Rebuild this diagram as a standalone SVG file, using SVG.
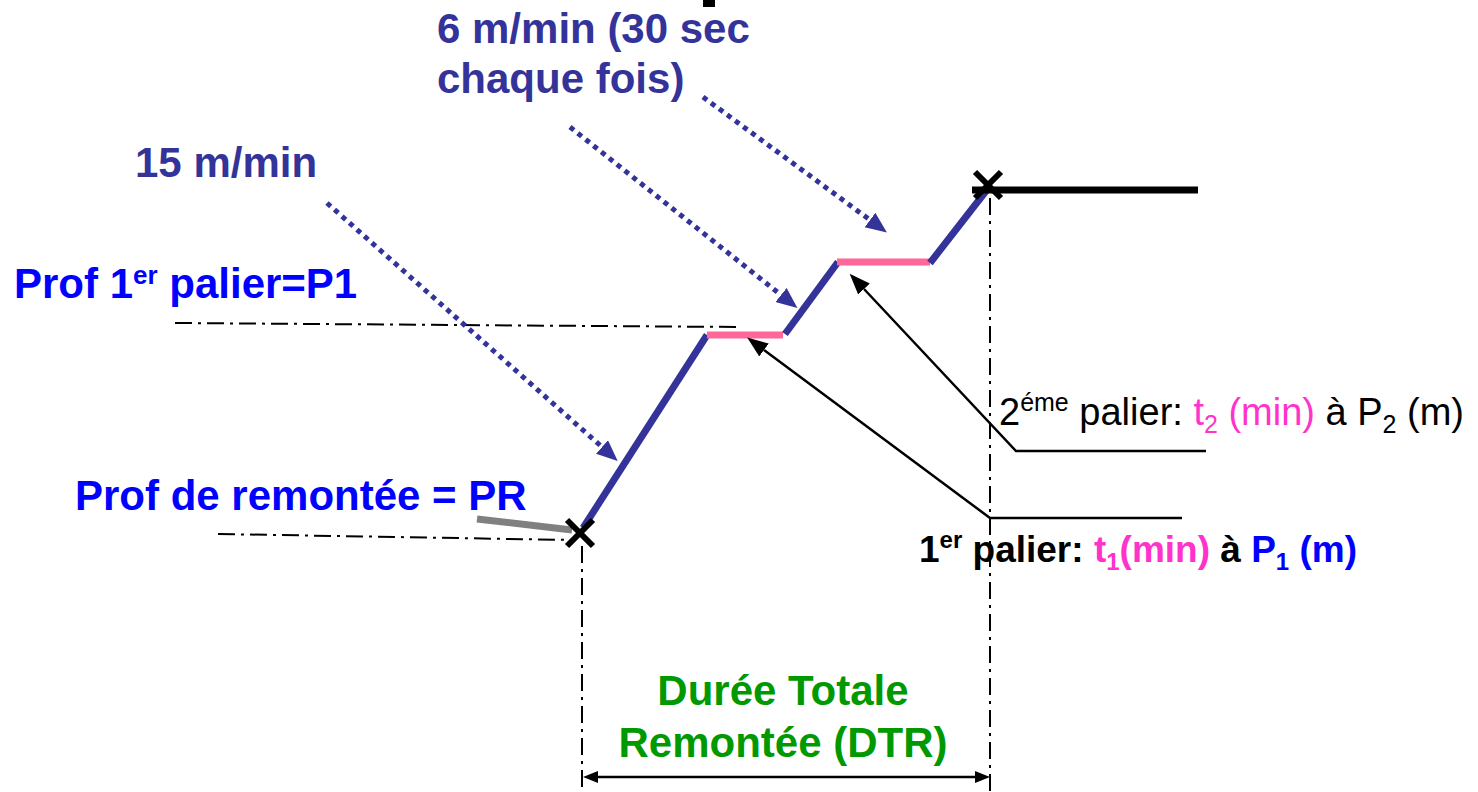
<svg xmlns="http://www.w3.org/2000/svg" width="1478" height="792" viewBox="0 0 1478 792">
<style>
text{font-family:"Liberation Sans",Arial,sans-serif}
.nv{fill:#333399;font-weight:bold;font-size:42px}
.bl{fill:#0000FF;font-weight:bold;font-size:42px}
.gr{fill:#009900;font-weight:bold;font-size:42px}
.pk{fill:#FF33CC}
.dd{fill:none;stroke:#000;stroke-width:2;stroke-dasharray:17 6 3 6}
.prof{fill:none;stroke:#333399;stroke-width:7}
.pal{fill:none;stroke:#FF6699;stroke-width:7}
.dot{fill:none;stroke:#333399;stroke-width:5;stroke-dasharray:5 5;marker-end:url(#nvh)}
.thin{fill:none;stroke:#000;stroke-width:2.5}
</style>
<defs>
<marker id="nvh" markerUnits="userSpaceOnUse" markerWidth="22" markerHeight="20" refX="0" refY="9" orient="auto" viewBox="0 0 22 20"><path d="M0,0 L21,9 L0,18 z" fill="#333399"/></marker>
<marker id="bkh" markerUnits="userSpaceOnUse" markerWidth="22" markerHeight="18" refX="0" refY="8" orient="auto-start-reverse" viewBox="0 0 22 18"><path d="M0,0 L21,8 L0,16 z" fill="#000"/></marker>
<marker id="bkd" markerUnits="userSpaceOnUse" markerWidth="16" markerHeight="14" refX="0" refY="6" orient="auto-start-reverse" viewBox="0 0 16 14"><path d="M0,0 L15,6 L0,12 z" fill="#000"/></marker>
</defs>
<rect x="703" y="0" width="12" height="7" fill="#000"/>
<g id="guides">
<line class="dd" x1="175" y1="323" x2="737" y2="327"/>
<line class="dd" x1="218" y1="534" x2="572" y2="540"/>
<line class="dd" x1="582" y1="546" x2="582" y2="792"/>
<line class="dd" x1="990" y1="198" x2="990" y2="792"/>
</g>
<g id="profile">
<line x1="477" y1="519" x2="572" y2="530" stroke="#808080" stroke-width="7"/>
<polyline class="prof" points="583,528 707,335"/>
<line class="pal" x1="707" y1="335" x2="783" y2="335"/>
<polyline class="prof" points="785,334 838,262"/>
<line class="pal" x1="837" y1="262" x2="930" y2="262"/>
<polyline class="prof" points="930,263 986,191"/>
<line x1="972" y1="190" x2="1198" y2="190" stroke="#000" stroke-width="7"/>
</g>
<g id="cross-start" stroke="#000" stroke-width="6">
<line x1="567" y1="520" x2="593" y2="546"/>
<line x1="593" y1="520" x2="567" y2="546"/>
</g>
<g id="cross-end" stroke="#000" stroke-width="6">
<line x1="975" y1="172" x2="1001" y2="198"/>
<line x1="1001" y1="172" x2="975" y2="198"/>
</g>
<g id="connectors">
<line class="dot" x1="327" y1="203" x2="602" y2="447"/>
<line class="dot" x1="570" y1="127" x2="781" y2="295"/>
<line class="dot" x1="703" y1="97" x2="870" y2="220"/>
<polyline class="thin" points="1182,518 990,518 764,350" marker-end="url(#bkh)"/>
<polyline class="thin" points="1206,451 1016,451 864,289" marker-end="url(#bkh)"/>
<line class="thin" x1="598" y1="777" x2="975" y2="777" marker-start="url(#bkd)" marker-end="url(#bkd)"/>
</g>
<g id="label-6mmin">
<text class="nv" x="437" y="43">6 m/min (30 sec</text>
<text class="nv" x="437" y="93">chaque fois)</text>
</g>
<g id="label-15mmin"><text class="nv" x="135" y="177">15 m/min</text></g>
<g id="label-p1"><text class="bl" x="14" y="298">Prof 1<tspan font-size="26" dy="-14">er</tspan><tspan dy="14"> palier=P1</tspan></text></g>
<g id="label-pr"><text class="bl" x="75" y="510">Prof de remontée = PR</text></g>
<g id="label-palier2"><text x="999" y="425" font-size="38" fill="#000">2<tspan font-size="25" dy="-14">éme</tspan><tspan dy="14"> palier: </tspan><tspan class="pk">t<tspan font-size="25" dy="8">2</tspan><tspan dy="-8"> (min)</tspan></tspan> à P<tspan font-size="25" dy="8">2</tspan><tspan dy="-8"> (m)</tspan></text></g>
<g id="label-palier1"><text x="919" y="562" font-size="37" font-weight="bold" fill="#000">1<tspan font-size="24" dy="-14">er</tspan><tspan dy="14"> palier: </tspan><tspan class="pk">t<tspan font-size="24" dy="8">1</tspan><tspan dy="-8">(min)</tspan></tspan> à <tspan fill="#0000FF">P<tspan font-size="24" dy="8">1</tspan><tspan dy="-8"> (m)</tspan></tspan></text></g>
<g id="label-dtr">
<text class="gr" x="783" y="705" text-anchor="middle">Durée Totale</text>
<text class="gr" x="783" y="757" text-anchor="middle">Remontée (DTR)</text>
</g>
</svg>
